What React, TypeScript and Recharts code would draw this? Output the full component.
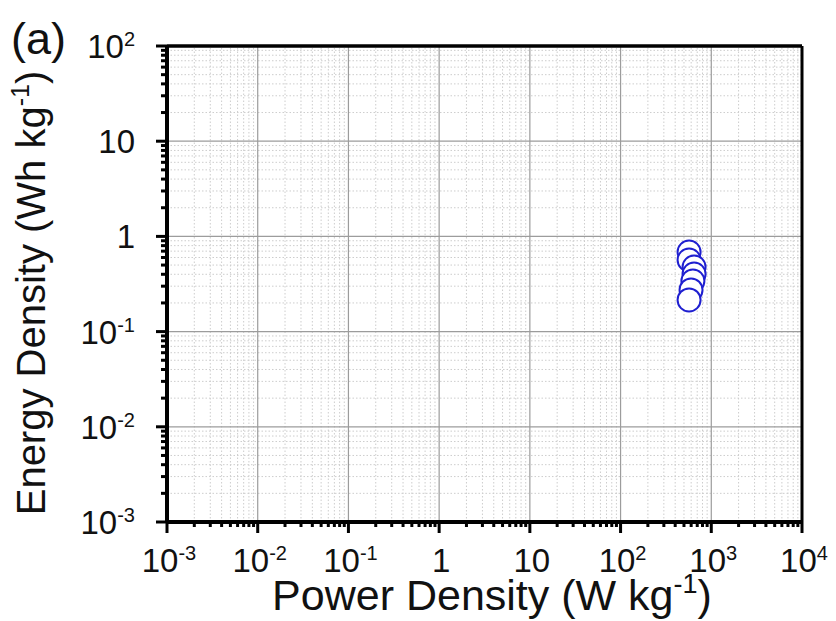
import React from "react";
import { ScatterChart, Scatter, XAxis, YAxis, ReferenceLine } from "recharts";

const powerDensity = [569, 569, 646, 646, 627, 598, 569];
const energyDensity = [0.686, 0.565, 0.477, 0.403, 0.34, 0.274, 0.215];

const xMajorTicks = [0.001, 0.01, 0.1, 1, 10, 100, 1000, 10000];
const yMajorTicks = [0.001, 0.01, 0.1, 1, 10, 100];
const xTickExponents = ["-3", "-2", "-1", "", "", "2", "3", "4"];
const yTickExponents = ["-3", "-2", "-1", "", "", "2"];
const minorMultipliers = [2, 3, 4, 5, 6, 7, 8, 9];

const minorOf = (majors: number[]) =>
  majors.slice(0, -1).flatMap((m) => minorMultipliers.map((k) => +(m * k).toPrecision(6)));

const xMinorTicks = minorOf(xMajorTicks);
const yMinorTicks = minorOf(yMajorTicks);
const xAllTicks = [...xMajorTicks, ...xMinorTicks].sort((a, b) => a - b);
const yAllTicks = [...yMajorTicks, ...yMinorTicks].sort((a, b) => a - b);

const data = powerDensity.map((p, i) => ({ p, e: energyDensity[i] }));

const FONT = "'Liberation Sans', Arial, sans-serif";

const labelParts = (v: number, majors: number[], exps: string[]) => {
  const i = majors.findIndex((m) => Math.abs(m - v) / m < 1e-6);
  if (i < 0) return null;
  if (v === 1) return { base: "1", exp: "" };
  if (v === 10) return { base: "10", exp: "" };
  return { base: "10", exp: exps[i] };
};

const XTick = (props: any) => {
  const { x, y, payload } = props;
  const parts = labelParts(payload.value, xMajorTicks, xTickExponents);
  const len = parts ? 11 : 5;
  return (
    <g>
      <line x1={x} x2={x} y1={y} y2={y + len} stroke="#000" strokeWidth={3} />
      {parts && (
        <text x={x + 2} y={y + 50} textAnchor="middle" fontFamily={FONT} fontSize={33} fill="#111">
          {parts.base}
          {parts.exp && (
            <tspan dy={-12} fontSize={20}>
              {parts.exp}
            </tspan>
          )}
        </text>
      )}
    </g>
  );
};

const YTick = (props: any) => {
  const { x, y, payload } = props;
  const parts = labelParts(payload.value, yMajorTicks, yTickExponents);
  const len = parts ? 11 : 6;
  return (
    <g>
      <line x1={x} x2={x - len} y1={y} y2={y} stroke="#000" strokeWidth={3} />
      {parts && (
        <text x={x - 32} y={y + 12} textAnchor="end" fontFamily={FONT} fontSize={33} fill="#111">
          {parts.base}
          {parts.exp && (
            <tspan dy={-12} fontSize={20}>
              {parts.exp}
            </tspan>
          )}
        </text>
      )}
    </g>
  );
};

const Circle = (props: any) => {
  const { cx, cy } = props;
  return <circle cx={cx} cy={cy} r={11.5} fill="#fff" stroke="#1f1fd0" strokeWidth={2} />;
};

export default function App() {
  return (
    <div style={{ position: "absolute", left: 0, top: 0, width: 836, height: 621, background: "#fff" }}>
      <ScatterChart width={836} height={621} margin={{ top: 46, right: 34, bottom: 0, left: 0 }}>
        <XAxis
          type="number"
          dataKey="p"
          scale="log"
          domain={[0.001, 10000]}
          ticks={xAllTicks}
          interval={0}
          allowDataOverflow
          height={99}
          tickSize={0}
          tickMargin={0}
          tickLine={false}
          axisLine={{ stroke: "#000", strokeWidth: 4 }}
          tick={<XTick />}
        />
        <YAxis
          type="number"
          dataKey="e"
          scale="log"
          domain={[0.001, 100]}
          ticks={yAllTicks}
          interval={0}
          allowDataOverflow
          width={167}
          tickSize={0}
          tickMargin={0}
          tickLine={false}
          axisLine={{ stroke: "#000", strokeWidth: 4 }}
          tick={<YTick />}
        />
        {xMinorTicks.map((v) => (
          <ReferenceLine key={"xm" + v} x={v} stroke="#cdcdcd" strokeWidth={1} strokeDasharray="1.5 2" />
        ))}
        {yMinorTicks.map((v) => (
          <ReferenceLine key={"ym" + v} y={v} stroke="#cdcdcd" strokeWidth={1} strokeDasharray="1.5 2" />
        ))}
        {xMajorTicks.slice(1, -1).map((v) => (
          <ReferenceLine key={"xM" + v} x={v} stroke="#9c9c9c" strokeWidth={1.2} />
        ))}
        {yMajorTicks.slice(1, -1).map((v) => (
          <ReferenceLine key={"yM" + v} y={v} stroke="#9c9c9c" strokeWidth={1.2} />
        ))}
        <ReferenceLine y={100} stroke="#000" strokeWidth={3.5} ifOverflow="visible" />
        <ReferenceLine x={10000} stroke="#000" strokeWidth={3} ifOverflow="visible" />
        <Scatter data={data} shape={<Circle />} isAnimationActive={false} />
      </ScatterChart>
      <svg
        width={836}
        height={621}
        style={{ position: "absolute", left: 0, top: 0, pointerEvents: "none" }}
      >
        <text x={11} y={54} fontFamily={FONT} fontSize={45} fill="#111">
          (a)
        </text>
        <text x={492} y={610} textAnchor="middle" fontFamily={FONT} fontSize={43} fill="#111">
          Power Density (W kg
          <tspan dy={-17} fontSize={27}>
            -1
          </tspan>
          <tspan dy={17}>)</tspan>
        </text>
        <text
          x={45}
          y={293}
          textAnchor="middle"
          fontFamily={FONT}
          fontSize={40}
          fill="#111"
          transform="rotate(-90, 45, 293)"
        >
          Energy Density (Wh kg
          <tspan dy={-16} fontSize={25}>
            -1
          </tspan>
          <tspan dy={16}>)</tspan>
        </text>
      </svg>
    </div>
  );
}
